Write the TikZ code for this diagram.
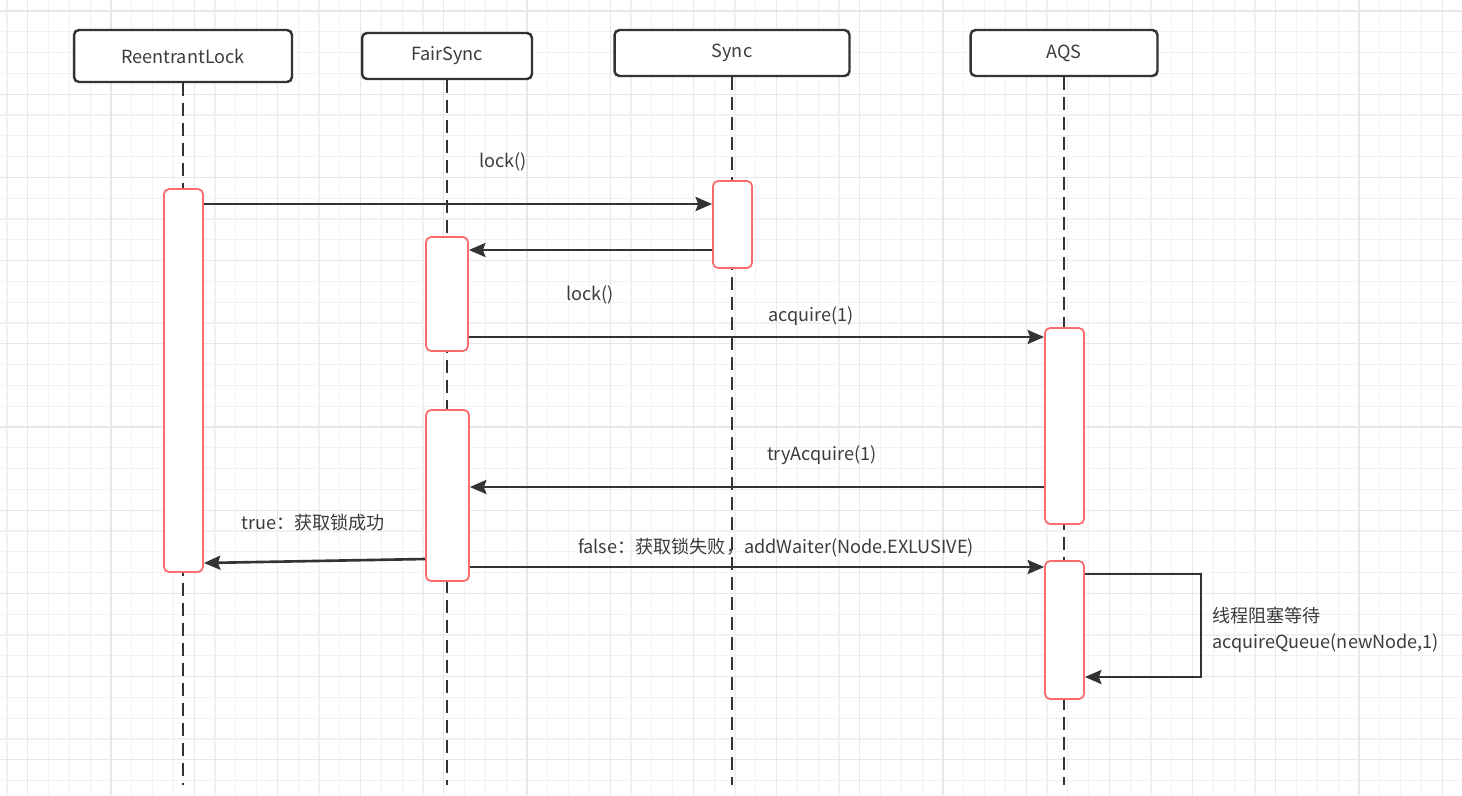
\documentclass[tikz,border=0pt]{standalone}
\usepackage{fontspec}
\setmainfont{Noto Sans CJK SC}
\usetikzlibrary{arrows.meta}
\definecolor{lineGray}{HTML}{333333}
\definecolor{textGray}{HTML}{3C3C3C}
\definecolor{actRed}{HTML}{FF6B6B}
\definecolor{gridMinor}{HTML}{F1F1F1}
\definecolor{gridMajor}{HTML}{E7E7E7}

\begin{document}
\begin{tikzpicture}[x=0.02cm, y=-0.02cm,
    head/.style={draw=lineGray, line width=1.4pt, rounded corners=1mm, fill=white,
      minimum height=9.2mm, text=textGray, font=\fontsize{10.3}{12}\selectfont},
    act/.style={draw=actRed, line width=1pt, rounded corners=1mm, fill=white,
      minimum width=7.8mm, inner sep=0pt},
    life/.style={draw=lineGray, line width=1.3pt, dash pattern=on 2.6mm off 1.4mm},
    msg/.style={draw=lineGray, line width=1.5pt,
      -{Stealth[length=3.3mm, width=2.8mm, inset=0.5mm]}},
    lbl/.style={text=textGray, font=\fontsize{10.3}{14.8}\selectfont, inner sep=0pt}]

    % Canvas and grid
    \useasboundingbox (0,0) rectangle (1462,795);
    \fill[white] (0,0) rectangle (1462,795);
    \foreach \i in {0,...,70}
        \draw[gridMinor, line width=0.6pt] ({7+20.8*\i},0) -- ({7+20.8*\i},795);
    \foreach \i in {0,...,38}
        \draw[gridMinor, line width=0.6pt] (0,{11+20.8*\i}) -- (1462,{11+20.8*\i});
    \foreach \i in {0,...,17}
        \draw[gridMajor, line width=0.7pt] ({27.8+83.2*\i},0) -- ({27.8+83.2*\i},795);
    \foreach \i in {0,...,9}
        \draw[gridMajor, line width=0.7pt] (0,{11+83.2*\i}) -- (1462,{11+83.2*\i});

    % Participants
    \node[head, minimum width=43.6mm, minimum height=10.4mm] (rl) at (183,56) {ReentrantLock};
    \node[head, minimum width=34mm] (fs) at (447,56) {FairSync};
    \node[head, minimum width=47mm] (sy) at (732,53) {Sync};
    \node[head, minimum width=37.4mm] (aqs) at (1064,53) {AQS};

    % Lifelines
    \draw[life] (rl.south) -- (rl.south |- 0,785);
    \draw[life] (fs.south) -- (fs.south |- 0,785);
    \draw[life] (sy.south) -- (sy.south |- 0,785);
    \draw[life] (aqs.south) -- (aqs.south |- 0,785);

    % Activations
    \node[act, minimum height=76.6mm] (rlA) at (183.5,380.5) {};
    \node[act, minimum height=17.4mm] (syA) at (732.5,224.5) {};
    \node[act, minimum width=8.4mm, minimum height=22.8mm] (fsA1) at (447,294) {};
    \node[act, minimum width=8.6mm, minimum height=34.2mm] (fsA2) at (447.5,495.5) {};
    \node[act, minimum height=39.2mm] (aqsA1) at (1064.5,426) {};
    \node[act, minimum height=27.6mm] (aqsA2) at (1064.5,630) {};

    % Messages
    \draw[msg] (rlA.east |- 0,204) -- (syA.west |- 0,204);
    \draw[msg] (syA.west |- 0,250) -- (fsA1.east |- 0,250);
    \draw[msg] (fsA1.east |- 0,337) -- (aqsA1.west |- 0,337);
    \draw[msg] (aqsA1.west |- 0,487) -- (fsA2.east |- 0,487);
    \draw[msg] (fsA2.west |- 0,559) -- (rlA.east |- 0,563);
    \draw[msg] (fsA2.east |- 0,567) -- (aqsA2.west |- 0,567);

    % Self call on AQS
    \coordinate (loopR) at (1201,625);
    \draw[msg] (aqsA2.east |- 0,574) -| (loopR) |- (aqsA2.east |- 0,677);

    % Labels
    \node[lbl] (lLock1) at (503,162) {lock()};
    \node[lbl] (lLock2) at (590,295) {lock()};
    \node[lbl] (lAcq) at (811,316) {acquire(1)};
    \node[lbl] (lTry) at (822,455) {tryAcquire(1)};
    \node[lbl] (lTrue) at (313,523) {true：获取锁成功};
    \node[lbl] (lFalse) at (776,548) {false：获取锁失败，addWaiter(Node.EXLUSIVE)};
    \node[lbl, anchor=west, align=left] (lWait) at (1212,630) {线程阻塞等待\\acquireQueue(newNode,1)};
\end{tikzpicture}
\end{document}
